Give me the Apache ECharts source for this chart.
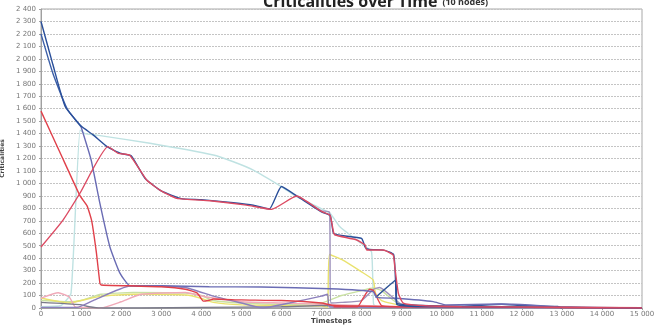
<!DOCTYPE html>
<html>
<head>
<meta charset="utf-8">
<script src="https://cdn.jsdelivr.net/npm/echarts@6/dist/echarts.min.js"></script>
<style>
  html, body { margin: 0; padding: 0; background: #fff; }
  #main { width: 661px; height: 326px; }
</style>
</head>
<body>
<div id="main"></div>
<script>
// [timestep, criticality] pairs
let darkBlueA = [[0,2300],[300,1950],[600,1620],[1000,1460],[1300,1390],[1650,1295],[2000,1240],[2250,1222],[2600,1040],[3000,940],[3500,878],[4000,870],[4800,845],[5300,825],[5700,795],[6000,975],[6400,895],[7000,772],[7220,742],[7300,600],[7500,582],[8000,558],[8100,482],[8200,470],[8550,465],[8800,430],[8850,210],[8880,30],[9500,12],[15000,0]]
let darkBlueB = [[0,2200],[300,1880],[650,1600],[1000,1455]]
let slateBlue = [[1000,1455],[1250,1190],[1470,840],[1720,490],[1970,280],[2220,179],[3000,178],[4200,171],[5500,168],[7200,155],[8290,131],[8380,85],[8870,78],[9790,51],[10120,24],[11450,32],[12200,24],[12870,10],[15000,0]]
let redA = [[0,1580],[500,1230],[975,900],[1150,820],[1265,700],[1380,450],[1470,200],[1500,185],[2200,178],[3000,170],[3600,150],[3900,120],[4050,55],[4200,62],[4300,72],[5000,65],[6000,60],[7000,40],[7300,20],[8000,15],[9000,10],[10000,10],[15000,2]]
let redB = [[0,490],[550,706],[975,923],[1670,1295],[1930,1241],[2220,1225],[2637,1027],[3000,940],[3387,880],[4218,861],[5130,826],[5755,792],[6380,899],[7000,775],[7212,746],[7300,610],[7340,586],[7880,546],[8090,506],[8130,465],[8540,465],[8790,425],[8830,331],[8920,118],[9040,40],[9500,20],[10500,10],[15000,0]]
let lightCyan = [[0,10],[500,20],[750,120],[975,1428],[1100,1400],[1390,1388],[2720,1322],[4300,1228],[4800,1174],[5300,1107],[6007,973],[6380,893],[7212,760],[7460,652],[8040,506],[8250,450],[8300,30],[8400,10],[9000,5],[15000,0]]
let greyPurple = [[6400,900],[7000,780],[7200,770],[7230,40],[7500,45],[8000,60],[8300,150],[8450,165],[8800,80],[9000,30],[10000,10],[15000,0]]
let purple = [[0,5],[900,5],[1300,60],[2220,177],[3600,165],[4300,95],[5000,40],[5530,0],[6200,40],[7000,95],[7150,110],[7200,10],[8000,5],[15000,0]]
let yellow = [[0,80],[700,40],[1000,60],[1500,95],[2300,110],[3630,104],[3970,80],[4300,45],[5000,25],[6000,20],[7000,15],[7150,5],[7200,430],[7500,390],[8000,290],[8290,225],[8350,118],[8500,60],[9000,20],[10000,8],[15000,0]]
let lightGreen = [[0,60],[700,50],[1000,60],[1500,110],[2300,125],[3600,120],[4000,100],[4300,60],[5000,40],[6000,30],[7000,40],[7500,100],[8000,140],[8300,160],[8500,140],[8800,60],[9000,30],[10000,10],[15000,0]]
let pink = [[0,80],[430,123],[700,90],[850,10],[1000,5],[1500,0],[2000,50],[2500,110],[3600,125],[4100,90],[5000,50],[6000,40],[7000,30],[8000,20],[9000,10],[15000,0]]
let darkGrey = [[0,45],[975,27],[1200,10],[1500,0],[2500,0],[4000,5],[6000,10],[7000,20],[8000,10],[8500,5],[15000,0]]
let redSmall = [[7300,10],[7900,10],[8040,80],[8200,150],[8300,140],[8500,20],[9000,10],[10000,15],[11000,8],[12000,5],[15000,0]]
let navy = [[8350,85],[8860,225],[8880,40],[9500,20],[10500,15],[11500,30],[12000,20],[12900,12],[13000,0]]

let xTicks = { min: 0, max: 15000, interval: 1000 }
let yTicks = { min: 0, max: 2400, interval: 100 }

function fmt(v) {
  return String(v).replace(/\B(?=(\d{3})+(?!\d))/g, ' ')
}

let lines = [
  { data: lightCyan, color: '#bfe2e2' },
  { data: lightGreen, color: '#c9e0a2' },
  { data: yellow, color: '#e9e26e' },
  { data: pink, color: '#f0a9b8' },
  { data: darkGrey, color: '#7a7a8a' },
  { data: purple, color: '#8b7fbc' },
  { data: greyPurple, color: '#9e92bc' },
  { data: redSmall, color: '#e2454f' },
  { data: navy, color: '#2f5597' },
  { data: slateBlue, color: '#6a6cb4' },
  { data: redA, color: '#e0404a' },
  { data: darkBlueB, color: '#3c5fa8' },
  { data: darkBlueA, color: '#2a4f9a' },
  { data: redB, color: '#dc4a62' }
]

let chart = echarts.init(document.getElementById('main'))
chart.setOption({
  animation: false,
  title: {
    text: '{a|Criticalities over Time} {b|(10 nodes)}',
    left: 258,
    top: -12,
    textStyle: {
      rich: {
        a: { fontFamily: 'Open Sans', fontWeight: 'bold', fontSize: 16, color: '#222' },
        b: { fontFamily: 'Open Sans', fontWeight: 'bold', fontSize: 9, color: '#333' }
      }
    }
  },
  graphic: [{
    type: 'text',
    left: 311,
    top: 318,
    style: { text: 'Timesteps', font: 'bold 7px "DejaVu Sans"', fill: '#444' }
  }],
  grid: {
    left: 41, right: 19, top: 9, bottom: 18,
    outerBoundsMode: 'none',
    containLabel: false,
    show: true, borderColor: '#a8a8a8', borderWidth: 1
  },
  xAxis: {
    type: 'value',
    min: xTicks.min, max: xTicks.max, interval: xTicks.interval,
    axisLine: { lineStyle: { color: '#a0a0a0' } },
    axisTick: { show: true, length: 2, lineStyle: { color: '#a0a0a0' } },
    axisLabel: { formatter: fmt, fontFamily: 'DejaVu Sans', fontSize: 7, color: '#777', margin: 3 },
    splitLine: { show: false }
  },
  yAxis: {
    type: 'value',
    min: yTicks.min, max: yTicks.max, interval: yTicks.interval,
    name: 'Criticalities',
    nameLocation: 'middle',
    nameGap: 33,
    nameTextStyle: { fontFamily: 'DejaVu Sans', fontWeight: 'bold', fontSize: 6, color: '#444' },
    axisLine: { show: true, lineStyle: { color: '#a0a0a0' } },
    axisTick: { show: true, length: 2, lineStyle: { color: '#a0a0a0' } },
    axisLabel: { formatter: fmt, fontFamily: 'DejaVu Sans', fontSize: 7, color: '#777', margin: 5 },
    splitLine: { show: true, lineStyle: { color: '#c4c4c4', type: [2, 1], width: 1 } }
  },
  series: lines.map(l => ({
    type: 'line',
    data: l.data,
    showSymbol: false,
    symbol: 'none',
    smooth: 0.15,
    lineStyle: { color: l.color, width: 1.4 },
    itemStyle: { color: l.color }
  }))
})
</script>
</body>
</html>
